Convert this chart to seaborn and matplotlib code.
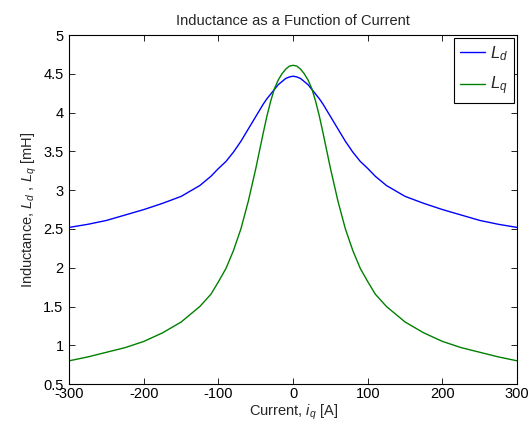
import numpy as np
import pandas as pd
import matplotlib
matplotlib.use("Agg")
import matplotlib.pyplot as plt
import seaborn as sns

# current [A]
current = [-300, -275, -250, -225, -200, -175, -150, -125, -110, -100,
           -90, -80, -70, -60, -50, -40, -35, -30, -25, -20, -15, -10, -5, 0,
           5, 10, 15, 20, 25, 30, 35, 40, 50, 60, 70, 80, 90,
           100, 110, 125, 150, 175, 200, 225, 250, 275, 300]

# L_d [mH]
L_d = [2.52, 2.56, 2.61, 2.68, 2.75, 2.83, 2.92, 3.06, 3.18, 3.28,
       3.37, 3.49, 3.63, 3.79, 3.95, 4.11, 4.18, 4.24, 4.30, 4.36, 4.40, 4.44, 4.46, 4.47,
       4.46, 4.44, 4.40, 4.36, 4.30, 4.24, 4.18, 4.11, 3.95, 3.79, 3.63, 3.49, 3.37,
       3.28, 3.18, 3.06, 2.92, 2.83, 2.75, 2.68, 2.61, 2.56, 2.52]

# L_q [mH]
L_q = [0.80, 0.85, 0.91, 0.97, 1.05, 1.16, 1.30, 1.50, 1.66, 1.82,
       1.99, 2.22, 2.50, 2.86, 3.28, 3.74, 3.96, 4.15, 4.31, 4.42, 4.50, 4.56, 4.60, 4.61,
       4.60, 4.56, 4.50, 4.42, 4.31, 4.15, 3.96, 3.74, 3.28, 2.86, 2.50, 2.22, 1.99,
       1.82, 1.66, 1.50, 1.30, 1.16, 1.05, 0.97, 0.91, 0.85, 0.80]

labels = ["$L_d$", "$L_q$"]
colors = ["#0000ff", "#008000"]

df = pd.concat([
    pd.DataFrame({"current": current, "L": L_d, "series": labels[0]}),
    pd.DataFrame({"current": current, "L": L_q, "series": labels[1]}),
])

sns.set_style("ticks")
plt.rcParams["font.family"] = ["Liberation Sans", "DejaVu Sans"]
plt.rcParams["mathtext.fontset"] = "custom"
plt.rcParams["mathtext.it"] = "Liberation Sans:italic"
plt.rcParams["mathtext.rm"] = "Liberation Sans"
plt.rcParams["axes.unicode_minus"] = False

fig = plt.figure(figsize=(5.32, 4.33), dpi=100)
ax = fig.add_axes([0.130, 0.113, 0.842, 0.806])

sns.lineplot(df, x="current", y="L", hue="series", hue_order=labels,
             palette=colors, linewidth=1.0, ax=ax, sort=False)

ax.set_xlim(-300, 300)
ax.set_ylim(0.5, 5)
ax.set_xticks(np.arange(-300, 301, 100))
ax.set_yticks(np.arange(0.5, 5.01, 0.5))
ax.set_yticklabels(["0.5", "1", "1.5", "2", "2.5", "3", "3.5", "4", "4.5", "5"])
ax.tick_params(direction="in", length=4, width=0.6, top=True, right=True,
               labelsize=10.5, colors="black")
ax.tick_params(axis="y", pad=4)
ax.tick_params(axis="x", pad=2)
for s in ax.spines.values():
    s.set_linewidth(0.8)
    s.set_color("black")

ax.set_title("Inductance as a Function of Current", fontsize=10.5, pad=7)
ax.set_xlabel("Current, $i_q$ [A]", fontsize=10.5, labelpad=1)
ax.set_ylabel("Inductance, $L_d$ , $L_q$ [mH]", fontsize=10.5, labelpad=3)

leg = ax.legend(loc="upper right", fontsize=12, handlelength=1.5,
                fancybox=False, framealpha=1, edgecolor="black",
                borderaxespad=0.2, borderpad=0.35, handletextpad=0.3,
                labelspacing=0.7)
leg.get_frame().set_linewidth(0.8)

fig.savefig("out.png", dpi=100)
